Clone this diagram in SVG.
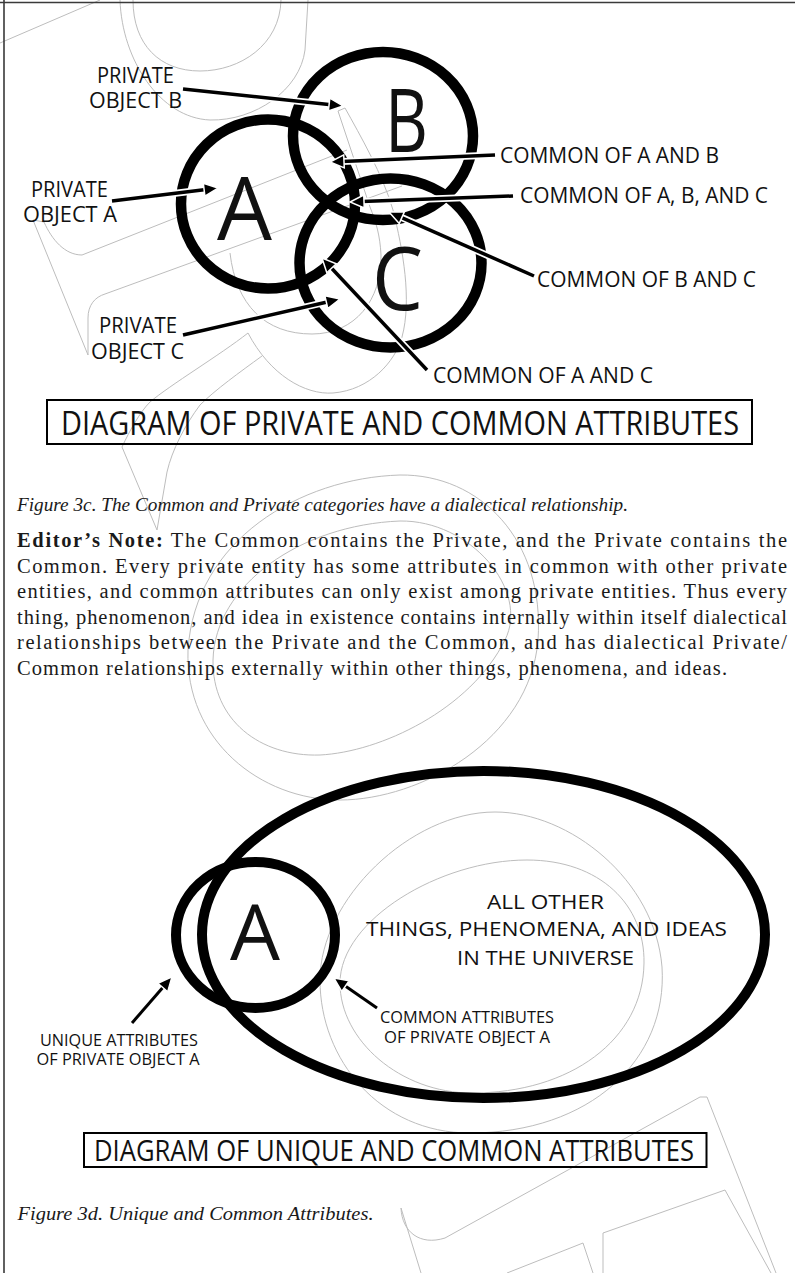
<svg xmlns="http://www.w3.org/2000/svg" width="795" height="1273" viewBox="0 0 795 1273">
  <style>
    .ring{fill:none;stroke:#000;stroke-width:10.5}
    .wm{fill:none;stroke:#bdbdbd;stroke-width:1}
    .sans{font-family:"Open Sans","Liberation Sans",sans-serif;fill:#111}
    .lbl{font-size:21px}
    .sm{font-size:16px}
    .mid{font-size:20px}
    .big{font-size:88px}
    .halo{stroke:#fff;stroke-width:7;fill:none}
    .shaft{stroke:#000;stroke-width:3.5;fill:none;marker-end:url(#ah)}
    .body{font-family:"Liberation Serif","Times New Roman",serif;font-size:20.5px;fill:#1a1a1a}
    .cap{font-family:"Liberation Serif","Times New Roman",serif;font-size:19px;font-style:italic;fill:#1a1a1a}
    .frame{fill:none;stroke:#000;stroke-width:2}
  </style>
  <defs>
    <marker id="ah" markerUnits="userSpaceOnUse" markerWidth="20" markerHeight="20" refX="2" refY="0" orient="auto" overflow="visible">
      <path d="M0,-6.5 L14,0 L0,6.5 Z" fill="#000" stroke="#fff" stroke-width="1.5"/>
    </marker>
  </defs>
  <rect width="795" height="1273" fill="#fff"/>

  <!-- background outline strokes -->
  <g id="outlines" class="wm">
    <path d="M0,43 L100,0"/>
    <path d="M133,0 C133,45 160,71 200,71 C240,71 280,45 281,0"/>
    <path d="M120,0 C122,60 160,118 210,120 C255,121 300,90 305,50 L308,0"/>
    <path d="M230,253 C236,305 265,334 312,334 C355,334 382,300 381,255 C380,235 376,222 370,207 L338,111 L345,108 C360,135 383,175 393,210 C403,250 412,300 402,337 C395,362 370,390 333,393 C305,395 270,375 248,333"/>
    <path d="M88,355 L88,318 C88,305 95,297 105,294 L402,186"/>
    <path d="M33,220 L88,355"/>
    <path d="M33,220 L44,222 C52,240 65,255 82,255 L347,150"/>
    <path d="M248,333 C220,355 170,385 150,402 C140,412 130,430 122,447 L157,530"/>
    <path d="M262,356 C240,372 215,390 200,405 C185,425 172,450 167,472 L157,530"/>
    <path d="M400,475 C300,478 195,540 188,650 C185,740 260,800 340,800 C420,800 530,740 538,640 C545,540 480,474 400,475 Z"/>
    <path d="M400,521 C300,525 215,585 213,660 C212,720 260,757 320,755 C380,752 470,710 505,640 C530,590 470,520 400,521 Z"/>
    <path d="M495,812 C570,812 655,880 662,967 C668,1060 590,1133 470,1133 C380,1133 320,1060 320,980 C320,900 410,812 495,812 Z"/>
    <path d="M527,860 C600,860 645,905 644,963 C643,1040 570,1093 472,1093 C400,1093 340,1040 340,983 C340,920 440,860 527,860 Z"/>
    <path d="M421,1273 L401,1208 C402,1232 420,1246 445,1238 L700,1097 L707,1097 L776,1273"/>
    <path d="M771,1273 L725,1190 L603,1233 L603,1273"/>
    <path d="M507,1273 L583,1243 L593,1273"/>
  </g>

  <!-- page edges -->
  <path d="M0,2.5 H795 M4,0 V1273" stroke="#3a3a3a" stroke-width="1.6" fill="none"/>

  <!-- private / common diagram -->
  <g id="circle-a">
    <ellipse class="ring" cx="268" cy="204" rx="87" ry="84.5"/>
    <text class="sans big" x="217" y="240" textLength="55" lengthAdjust="spacingAndGlyphs">A</text>
  </g>
  <g id="circle-b">
    <ellipse class="ring" cx="383" cy="136" rx="90" ry="84"/>
    <text class="sans big" x="385" y="152" textLength="43" lengthAdjust="spacingAndGlyphs">B</text>
  </g>
  <g id="circle-c">
    <ellipse class="ring" cx="390.5" cy="263" rx="91" ry="84.5"/>
    <text class="sans big" x="372" y="310" textLength="51" lengthAdjust="spacingAndGlyphs">C</text>
  </g>

  <g id="label-private-b" class="sans lbl">
    <text x="97" y="83" textLength="77" lengthAdjust="spacingAndGlyphs">PRIVATE</text>
    <text x="89" y="108" textLength="93" lengthAdjust="spacingAndGlyphs">OBJECT B</text>
  </g>
  <g id="label-private-a" class="sans lbl">
    <text x="31" y="197" textLength="77" lengthAdjust="spacingAndGlyphs">PRIVATE</text>
    <text x="23" y="222" textLength="94" lengthAdjust="spacingAndGlyphs">OBJECT A</text>
  </g>
  <g id="label-private-c" class="sans lbl">
    <text x="99" y="333" textLength="78" lengthAdjust="spacingAndGlyphs">PRIVATE</text>
    <text x="91" y="359" textLength="93" lengthAdjust="spacingAndGlyphs">OBJECT C</text>
  </g>
  <g id="label-common-ab" class="sans lbl">
    <text x="500" y="163" textLength="219" lengthAdjust="spacingAndGlyphs">COMMON OF A AND B</text>
  </g>
  <g id="label-common-abc" class="sans lbl">
    <text x="520" y="203" textLength="248" lengthAdjust="spacingAndGlyphs">COMMON OF A, B, AND C</text>
  </g>
  <g id="label-common-bc" class="sans lbl">
    <text x="537" y="287" textLength="219" lengthAdjust="spacingAndGlyphs">COMMON OF B AND C</text>
  </g>
  <g id="label-common-ac" class="sans lbl">
    <text x="433" y="383" textLength="220" lengthAdjust="spacingAndGlyphs">COMMON OF A AND C</text>
  </g>

  <g id="connectors">
    <g class="halo">
      <path d="M183,89 L331.1,104.7"/>
      <path d="M112,201 L206.1,189.5"/>
      <path d="M183,335 L328.3,301.7"/>
      <path d="M495,155 L342,161.5"/>
      <path d="M513,196 L362,201.6"/>
      <path d="M534,276 L400,216.8"/>
      <path d="M427,370 L330.2,266.8"/>
    </g>
    <path class="shaft" d="M183,89 L331.1,104.7"/>
    <path class="shaft" d="M112,201 L206.1,189.5"/>
    <path class="shaft" d="M183,335 L328.3,301.7"/>
    <path class="shaft" d="M495,155 L342,161.5"/>
    <path class="shaft" d="M513,196 L362,201.6"/>
    <path class="shaft" d="M534,276 L400,216.8"/>
    <path class="shaft" d="M427,370 L330.2,266.8"/>
    <path class="shaft" style="stroke-width:3" d="M132,1023 L164.1,986"/>
    <path class="shaft" style="stroke-width:3" d="M377,1008 L343.8,984.9"/>
  </g>

  <g id="title-private-common">
    <rect class="frame" x="47" y="400" width="705" height="44"/>
    <text class="sans" x="61" y="434.5" font-size="32" textLength="678" lengthAdjust="spacingAndGlyphs">DIAGRAM OF PRIVATE AND COMMON ATTRIBUTES</text>
  </g>

  <g id="caption-3c">
    <text class="cap" x="17" y="511" textLength="611" lengthAdjust="spacingAndGlyphs">Figure 3c. The Common and Private categories have a dialectical relationship.</text>
  </g>

  <g id="editors-note" class="body">
    <text x="17" y="547" textLength="770" lengthAdjust="spacing"><tspan font-weight="bold">Editor’s Note:</tspan> The Common contains the Private, and the Private contains the</text>
    <text x="17" y="572.5" textLength="770" lengthAdjust="spacing">Common. Every private entity has some attributes in common with other private</text>
    <text x="17" y="598" textLength="770" lengthAdjust="spacing">entities, and common attributes can only exist among private entities. Thus every</text>
    <text x="17" y="623.5" textLength="770" lengthAdjust="spacing">thing, phenomenon, and idea in existence contains internally within itself dialectical</text>
    <text x="17" y="649" textLength="770" lengthAdjust="spacing">relationships between the Private and the Common, and has dialectical Private/</text>
    <text x="17" y="674.5" textLength="710" lengthAdjust="spacing">Common relationships externally within other things, phenomena, and ideas.</text>
  </g>

  <!-- unique / common diagram -->
  <g id="universe">
    <ellipse class="ring" style="stroke-width:10" cx="483.5" cy="934.5" rx="281.5" ry="163.5"/>
    <text class="sans mid" x="487" y="909" textLength="117" lengthAdjust="spacingAndGlyphs">ALL OTHER</text>
    <text class="sans mid" x="366" y="936" textLength="361" lengthAdjust="spacingAndGlyphs">THINGS, PHENOMENA, AND IDEAS</text>
    <text class="sans mid" x="457" y="965" textLength="177" lengthAdjust="spacingAndGlyphs">IN THE UNIVERSE</text>
  </g>
  <g id="object-a">
    <ellipse class="ring" style="stroke-width:10" cx="255.5" cy="935" rx="79.5" ry="73"/>
    <text class="sans" x="230" y="960" font-size="77" textLength="50" lengthAdjust="spacingAndGlyphs">A</text>
  </g>
  <g id="label-unique" class="sans sm">
    <text x="40" y="1046" textLength="158" lengthAdjust="spacingAndGlyphs">UNIQUE ATTRIBUTES</text>
    <text x="36.5" y="1065" textLength="163" lengthAdjust="spacingAndGlyphs">OF PRIVATE OBJECT A</text>
  </g>
  <g id="label-common-attrs" class="sans sm">
    <text x="380" y="1023" textLength="174" lengthAdjust="spacingAndGlyphs">COMMON ATTRIBUTES</text>
    <text x="384" y="1043" textLength="166" lengthAdjust="spacingAndGlyphs">OF PRIVATE OBJECT A</text>
  </g>

  <g id="title-unique-common">
    <rect class="frame" x="84" y="1133" width="622.5" height="34"/>
    <text class="sans" x="94" y="1161" font-size="29" textLength="600" lengthAdjust="spacingAndGlyphs">DIAGRAM OF UNIQUE AND COMMON ATTRIBUTES</text>
  </g>

  <g id="caption-3d">
    <text class="cap" x="17.5" y="1220" textLength="356" lengthAdjust="spacingAndGlyphs">Figure 3d. Unique and Common Attributes.</text>
  </g>
</svg>
